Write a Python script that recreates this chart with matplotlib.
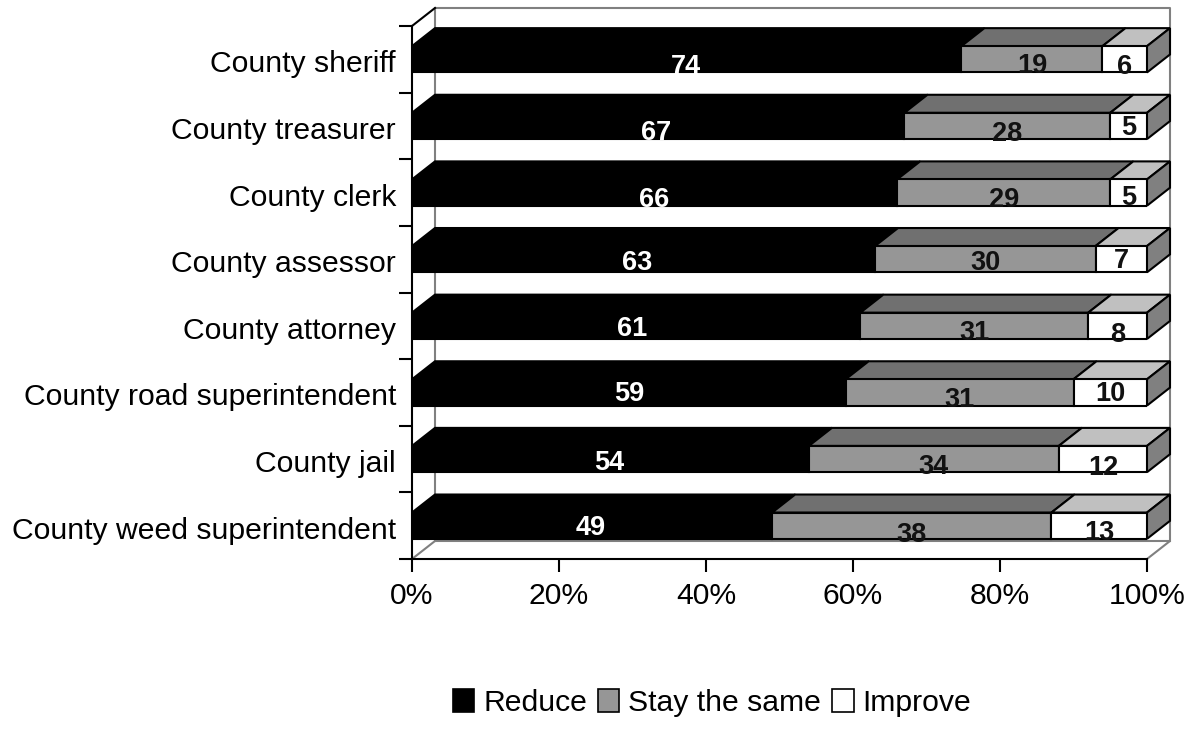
import matplotlib
matplotlib.use("Agg")
import matplotlib.pyplot as plt
from matplotlib.patches import Polygon, Patch
from matplotlib.transforms import ScaledTranslation

plt.rcParams['font.family'] = ['Liberation Sans', 'DejaVu Sans']

categories = ["County sheriff", "County treasurer", "County clerk", "County assessor",
              "County attorney", "County road superintendent", "County jail",
              "County weed superintendent"]
reduce_vals = [74, 67, 66, 63, 61, 59, 54, 49]
same_vals = [19, 28, 29, 30, 31, 31, 34, 38]
improve_vals = [6, 5, 5, 7, 8, 10, 12, 13]
series_names = ["Reduce", "Stay the same", "Improve"]

# labels in the original sit a bit off, nudge in px (down / right)
reduce_nudge = [8, 7, 7, 4, 3.5, 2, 3.5, 2.5]
same_nudge = [7, 8, 7, 4, 7.5, 8, 7.5, 9.5]
improve_nudge = [8, 2.5, 5, 2, 9.5, 2, 8.5, 7.5]
reduce_xnudge = [-1, -2, 0, -6, -4, 0, -1, -1]

front_cols = ["#000000", "#969696", "#ffffff"]
top_cols = ["#000000", "#707070", "#c0c0c0"]
side_col = "#808080"
text_cols = ["white", "#111111", "#111111"]

W, H = 1189, 745
fig = plt.figure(figsize=(W / 100, H / 100), dpi=100)
ax = fig.add_axes([412 / W, 1 - 559 / H, 735 / W, 533 / H])
ax.set_xlim(0, 100)
ax.set_ylim(7.5, -0.5)

# depth of the fake 3d, in data units
dx = 23 / 7.35
dy = 18 / 66.6
bar_h = 0.395
lw = 1.5

# back walls
wall = "#808080"
ax.plot([dx, dx, 100 + dx, 100 + dx], [7.5 - dy, -0.5 - dy, -0.5 - dy, 7.5 - dy],
        color=wall, lw=1.5, clip_on=False, zorder=1)
ax.plot([0, dx, 100 + dx, 100], [7.5, 7.5 - dy, 7.5 - dy, 7.5],
        color=wall, lw=1.5, clip_on=False, zorder=1)
ax.plot([0, dx], [-0.5, -0.5 - dy], color="black", lw=1.5, clip_on=False, zorder=1)

series = [reduce_vals, same_vals, improve_vals]
nudges = [reduce_nudge, same_nudge, improve_nudge]
for i in range(len(categories)):
    total = reduce_vals[i] + same_vals[i] + improve_vals[i]
    left = 0
    y0 = i - bar_h / 2
    y1 = i + bar_h / 2
    for k in range(3):
        w = series[k][i] / total * 100
        top = Polygon([(left, y0), (left + dx, y0 - dy), (left + w + dx, y0 - dy), (left + w, y0)],
                      closed=True, fc=top_cols[k], ec="black", lw=lw, clip_on=False, zorder=2)
        ax.add_patch(top)
        ax.barh(i, w, left=left, height=bar_h, color=front_cols[k], edgecolor="black",
                linewidth=lw, zorder=3)
        xn = reduce_xnudge[i] if k == 0 else 0
        ax.annotate(str(series[k][i]), (left + w / 2, i), xytext=(xn * 0.72, -nudges[k][i] * 0.72),
                    textcoords="offset points", ha="center", va="center", fontsize=19.5,
                    fontweight="bold", color=text_cols[k], zorder=5, annotation_clip=False)
        left += w
    side = Polygon([(100, y0), (100 + dx, y0 - dy), (100 + dx, y1 - dy), (100, y1)],
                   closed=True, fc=side_col, ec="black", lw=lw, clip_on=False, zorder=2)
    ax.add_patch(side)

for s in ["top", "right"]:
    ax.spines[s].set_visible(False)
for s in ["left", "bottom"]:
    ax.spines[s].set_linewidth(1.5)
    ax.spines[s].set_zorder(6)

ax.set_xticks(range(0, 101, 20))
ax.set_xticklabels([f"{v}%" for v in range(0, 101, 20)])
ax.set_yticks([i - 0.5 for i in range(9)])
ax.set_yticklabels([])
ax.set_yticks(range(8), minor=True)
ax.set_yticklabels(categories, minor=True)
ax.tick_params(axis="x", length=9.4, width=1.5, labelsize=21.7, pad=7)
ax.tick_params(axis="y", which="major", length=9.4, width=1.5)
ax.tick_params(axis="y", which="minor", length=0, labelsize=21.7, pad=11.5)

# category labels sit 2px lower in the original
shift = ScaledTranslation(0, -2 / 100, fig.dpi_scale_trans)
for lab in ax.get_yticklabels(minor=True):
    lab.set_transform(lab.get_transform() + shift)

handles = [Patch(fc=c, ec="black", lw=1.2) for c in front_cols]
fig.legend(handles, series_names, loc="center", bbox_to_anchor=(712 / W, 1 - 703 / H),
           ncol=3, frameon=False, fontsize=21.7, handlelength=0.72, handleheight=0.8,
           handletextpad=0.3, columnspacing=0.35, borderpad=0)

fig.savefig("out.png", dpi=100)
